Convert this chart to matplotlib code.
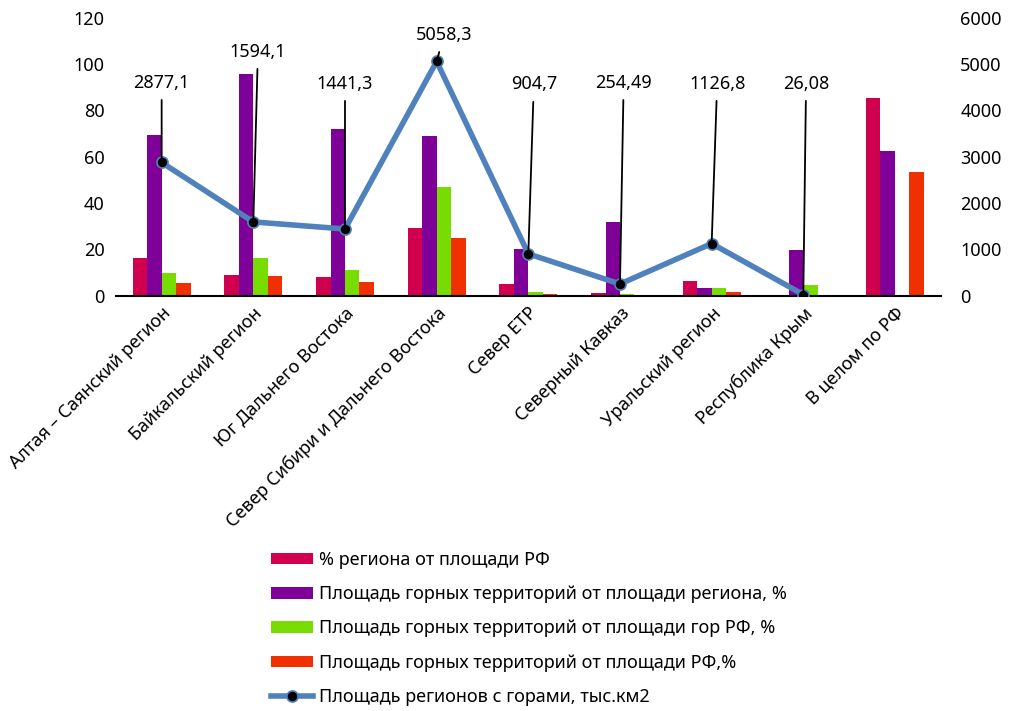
import numpy as np
import matplotlib.pyplot as plt

plt.rcParams['font.family'] = ['Noto Sans', 'DejaVu Sans']

# ---------------------------------------------------------------------------
# Data
# ---------------------------------------------------------------------------
regions = ['Алтая – Саянский регион', 'Байкальский регион', 'Юг Дальнего Востока',
           'Север Сибири и Дальнего Востока', 'Север ЕТР', 'Северный Кавказ',
           'Уральский регион', 'Республика Крым', 'В целом по РФ']
share_rf = [16.4, 9.0, 8.1, 29.1, 4.9, 1.1, 6.3, 0.0, 85.4]
mount_of_region = [69.3, 95.8, 72.1, 69.0, 20.2, 32.0, 3.2, 19.9, 62.3]
mount_of_rf_mount = [9.8, 16.4, 11.3, 47.0, 1.7, 0.6, 3.2, 4.6, 0.0]
mount_of_rf = [5.5, 8.7, 5.8, 24.8, 0.9, 0.3, 1.7, 0.0, 53.4]
area = [2877.1, 1594.1, 1441.3, 5058.3, 904.7, 254.49, 1126.8, 26.08, np.nan]
area_labels = ['2877,1', '1594,1', '1441,3', '5058,3', '904,7', '254,49', '1126,8', '26,08']

series_names = ['% региона от площади РФ',
                'Площадь горных территорий от площади региона, %',
                'Площадь горных территорий от площади гор РФ, %',
                'Площадь горных территорий от площади РФ,%']
line_name = 'Площадь регионов с горами, тыс.км2'

# ---------------------------------------------------------------------------
# Plot
# ---------------------------------------------------------------------------
colors = ['#D1004F', '#7F0099', '#77DD00', '#F03000']
fig = plt.figure(figsize=(10.16, 7.11), dpi=100)
ax = fig.add_axes([0.114, 0.584, 0.812, 0.391])
x = np.arange(len(regions))
w = 0.158
bars = []
for i, vals in enumerate([share_rf, mount_of_region, mount_of_rf_mount, mount_of_rf]):
    b = ax.bar(x + (i - 1.5) * w, vals, w, color=colors[i], label=series_names[i])
    bars.append(b)

ax.set_ylim(0, 120)
ax.set_yticks(range(0, 121, 20))
ax.set_xlim(-0.5, 8.5)
ax.set_xticks(x)
ax.set_xticklabels(regions, rotation=45, ha='right', rotation_mode='anchor')
for s in ['top', 'right', 'left']:
    ax.spines[s].set_visible(False)
ax.spines['bottom'].set_linewidth(1.5)
ax.tick_params(length=0, labelsize=13, pad=8)
ax.tick_params(axis='x', pad=6)

ax2 = ax.twinx()
ln, = ax2.plot(x, area, color='#4F81BD', linewidth=4, marker='o', markersize=8,
               markerfacecolor='black', markeredgecolor='#4F81BD', markeredgewidth=1.2,
               label=line_name, zorder=3)
ax2.set_ylim(0, 6000)
ax2.set_yticks(range(0, 6001, 1000))
for s in ax2.spines.values():
    s.set_visible(False)
ax2.tick_params(length=0, labelsize=13, pad=14)

# value labels with leader lines
text_x = [0.0, 1.05, 2.0, 3.08, 4.06, 5.04, 6.06, 7.03]
text_y = [4600, 5270, 4580, 5630, 4560, 4600, 4580, 4580]
for i, lab in enumerate(area_labels):
    ax2.annotate(lab, xy=(x[i], area[i]), xytext=(text_x[i], text_y[i]),
                 ha='center', va='center', fontsize=13,
                 arrowprops=dict(arrowstyle='-', color='black', lw=1.3,
                                 shrinkA=4, shrinkB=0))

handles = bars + [ln]
labels = series_names + [line_name]
fig.legend(handles, labels, loc='upper left', bbox_to_anchor=(0.251, 0.248),
           frameon=False, fontsize=13, handlelength=2.3, handleheight=0.6,
           labelspacing=0.9, handletextpad=0.33)

plt.savefig('out.png', dpi=100)
